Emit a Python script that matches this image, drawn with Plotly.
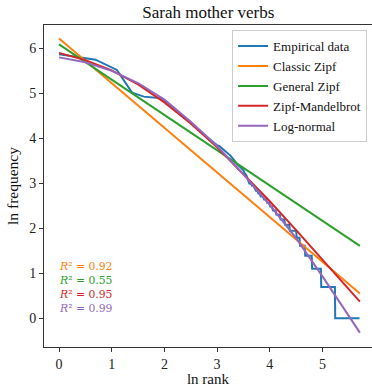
import numpy as np
import plotly.graph_objects as go

# ---- Data ----
# Empirical rank-frequency data: explicit frequencies for the top ranks,
# then runs of (frequency, number of words) for the tail.
head_freqs = [354, 314, 250, 151, 138, 136, 133, 117, 104, 95,
              86, 78, 72, 67, 62, 58, 55, 52, 49, 47,
              46, 44, 42, 40, 39, 37, 35, 33, 31, 30,
              29, 28, 27, 25, 24, 22, 20, 20, 19, 19,
              18, 17, 17, 16, 16, 15, 15, 15, 14, 14,
              14, 13, 13, 13, 12, 12, 12, 11, 11, 11, 11]
tail_freq_values = [10, 9, 8, 7, 6, 5, 4, 3, 2, 1]
tail_freq_counts = [5, 6, 7, 11, 6, 10, 15, 23, 44, 112]

# Fitted models (ln rank -> ln frequency)
classic_x = [0.0, 5.71]
classic_y = [6.22, 0.55]
general_x = [0.0, 5.71]
general_y = [6.09, 1.61]
zm_x = [0.0, 0.5, 1.0, 1.5, 2.0, 2.5, 3.0, 3.5, 4.0, 4.5, 5.0, 5.5, 5.71]
zm_y = [5.90, 5.74, 5.51, 5.20, 4.80, 4.33, 3.80, 3.21, 2.60, 1.96, 1.31, 0.65, 0.37]
ln_x = [0.0, 0.5, 1.0, 1.5, 2.0, 2.5, 3.0, 3.5, 4.0, 4.5, 5.0, 5.5, 5.71]
ln_y = [5.80, 5.69, 5.50, 5.23, 4.86, 4.37, 3.83, 3.20, 2.52, 1.78, 0.93, 0.03, -0.32]

r2_labels = ["0.92", "0.55", "0.95", "0.99"]

# ---- Build empirical series ----
freqs = list(head_freqs)
for f, c in zip(tail_freq_values, tail_freq_counts):
    freqs += [f] * c
freqs = np.array(freqs, dtype=float)
ranks = np.arange(1, len(freqs) + 1)
emp_x = np.log(ranks)
emp_y = np.log(freqs)

C_BLUE, C_ORANGE, C_GREEN, C_RED, C_PURPLE = "#1f77b4", "#ff7f0e", "#2ca02c", "#d62728", "#9467bd"
FONT = "Liberation Serif, Times New Roman, serif"
MATH_FONT = "DejaVu Serif, serif"

fig = go.Figure()
series = [
    ("Empirical data", emp_x, emp_y, C_BLUE),
    ("Classic Zipf", classic_x, classic_y, C_ORANGE),
    ("General Zipf", general_x, general_y, C_GREEN),
    ("Zipf-Mandelbrot", zm_x, zm_y, C_RED),
    ("Log-normal", ln_x, ln_y, C_PURPLE),
]
for name, x, y, c in series:
    fig.add_trace(go.Scatter(x=x, y=y, mode="lines", name=name,
                             line=dict(color=c, width=2)))

r2_colors = [C_ORANGE, C_GREEN, C_RED, C_PURPLE]
r2_y = [1.151, 0.836, 0.521, 0.206]
for lab, c, yy in zip(r2_labels, r2_colors, r2_y):
    fig.add_annotation(x=-0.02, y=yy, xref="x", yref="y", xanchor="left", yanchor="middle",
                       text="<i>R</i>\u00b2 = " + lab, showarrow=False, borderpad=0,
                       font=dict(family=MATH_FONT, size=10.8, color=c))

axis_common = dict(showgrid=False, zeroline=False, showline=True, linecolor="#333",
                   linewidth=1, ticks="outside", ticklen=4, tickcolor="#333",
                   tickfont=dict(family=FONT, size=14, color="#222"))
fig.update_layout(
    width=372, height=387,
    margin=dict(l=44, r=0, t=25, b=40),
    paper_bgcolor="white", plot_bgcolor="white",
    title=dict(text="Sarah mother verbs", x=0.56, xanchor="center", y=0.968, yanchor="middle",
               font=dict(family=FONT, size=17, color="#111")),
    xaxis=dict(range=[-0.285, 5.94], tickvals=[0, 1, 2, 3, 4, 5], mirror=True,
               title=dict(text="ln rank", font=dict(family=FONT, size=15, color="#111"), standoff=4),
               **axis_common),
    yaxis=dict(range=[-0.64, 6.52], tickvals=[0, 1, 2, 3, 4, 5, 6],
               title=dict(text="ln frequency", font=dict(family=FONT, size=15.5, color="#111"), standoff=6),
               **axis_common),
    legend=dict(x=0.985, y=0.984, xanchor="right", yanchor="top",
                bgcolor="rgba(255,255,255,0.85)", bordercolor="#ccc", borderwidth=1,
                itemwidth=30,
                font=dict(family=FONT, size=13, color="#111")),
    showlegend=True,
)

fig.write_html("out.html")
